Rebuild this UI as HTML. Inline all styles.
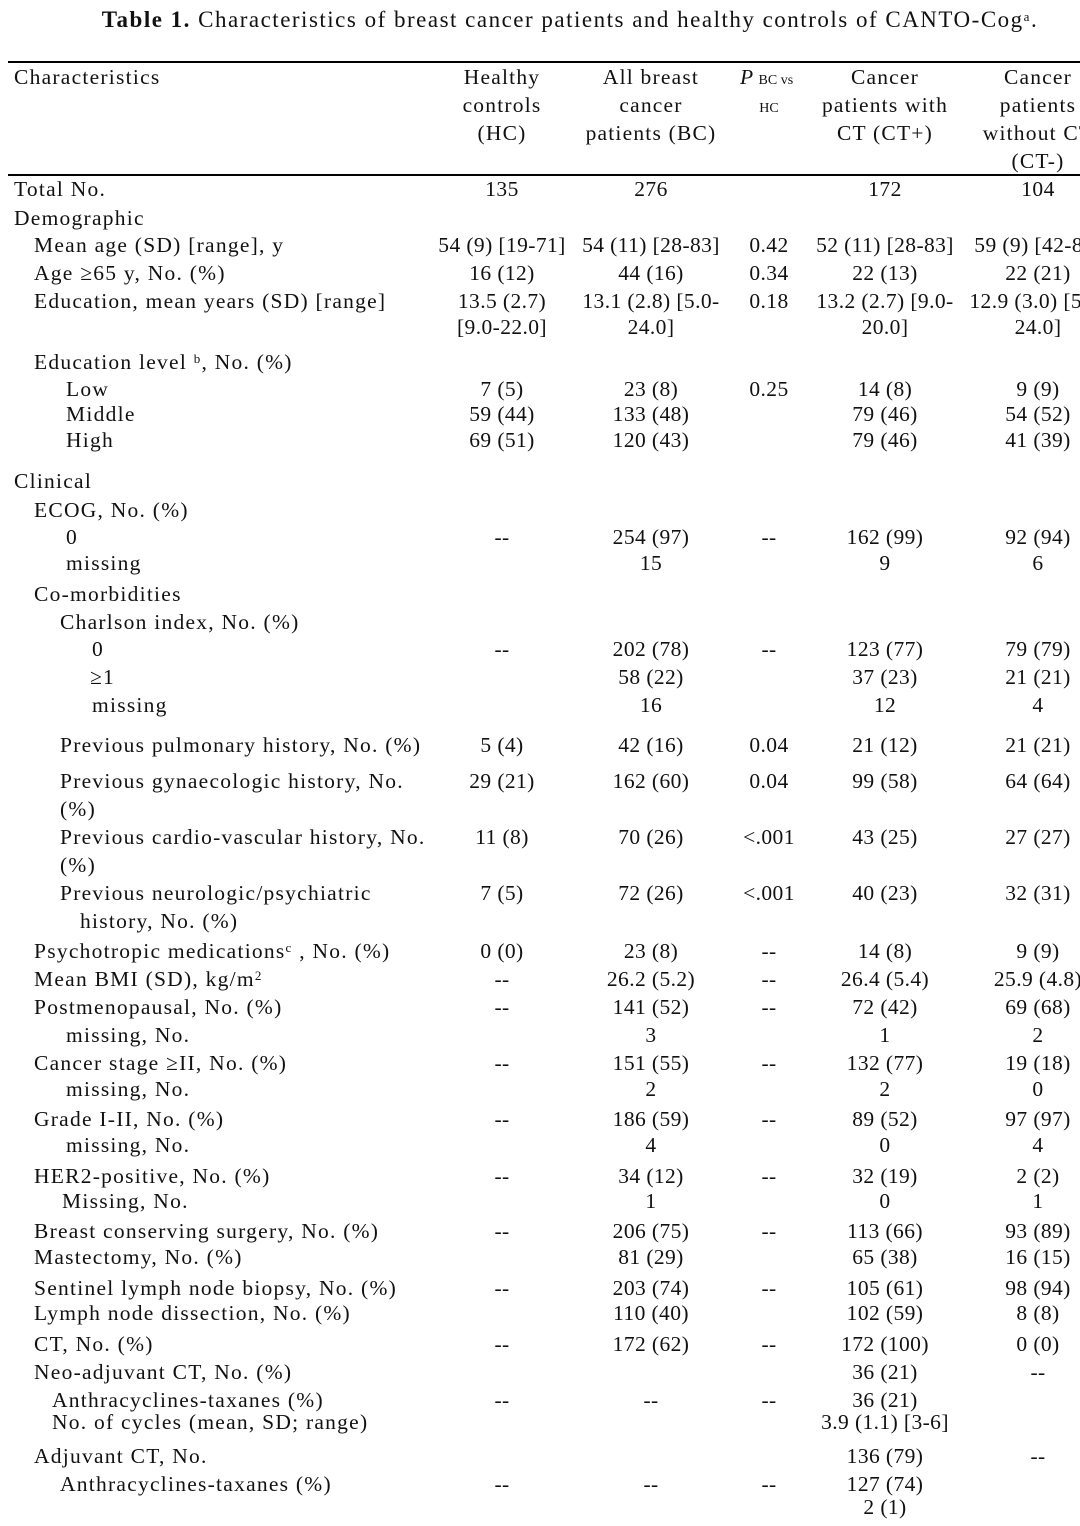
<!DOCTYPE html>
<html><head><meta charset="utf-8"><style>
html,body{margin:0;padding:0;background:#fff;}
body{width:1080px;height:1526px;position:relative;overflow:hidden;font-family:"Liberation Serif","Times New Roman",serif;font-size:21.5px;color:#111;}
.r{position:absolute;left:0;width:1200px;height:26px;line-height:26px;letter-spacing:0.4px;}
.r span{position:absolute;white-space:nowrap;}
.r span[style*="left"]{letter-spacing:1.25px}
.h span{letter-spacing:1.2px}
.a{left:402px;width:200px;text-align:center}
.b{left:551px;width:200px;text-align:center}
.p{left:709px;width:120px;text-align:center}
.c{left:785px;width:200px;text-align:center}
.d{left:938px;width:200px;text-align:center}
.rule{position:absolute;left:8px;width:1080px;height:1.5px;background:#000;}
sup{font-size:13px;vertical-align:6px;line-height:0}
</style></head><body>
<div style="position:absolute;top:5px;left:0;width:1140px;text-align:center;font-size:23px;line-height:30px;letter-spacing:1.5px"><b>Table 1.</b> Characteristics of breast cancer patients and healthy controls of CANTO-Cog<sup>a</sup>.</div>
<div class="rule" style="top:61px"></div>
<div class="rule" style="top:174px"></div>
<div class="r h" style="top:64px"><span style="left:14px">Characteristics</span><span class="a">Healthy</span><span class="b">All breast</span><span style="left:740px;letter-spacing:0"><i>P</i> <span style="position:static;font-size:14px;letter-spacing:0">BC vs</span></span><span class="c">Cancer</span><span class="d">Cancer</span></div>
<div class="r h" style="top:92px"><span class="a">controls</span><span class="b">cancer</span><span class="p" style="font-size:14px;top:4px;letter-spacing:0">HC</span><span class="c">patients with</span><span class="d">patients</span></div>
<div class="r h" style="top:120px"><span class="a">(HC)</span><span class="b">patients (BC)</span><span class="c">CT (CT+)</span><span class="d">without CT</span></div>
<div class="r h" style="top:148px"><span class="d">(CT-)</span></div>

<div class="r" style="top:176px"><span style="left:14px">Total No.</span><span class="a">135</span><span class="b">276</span><span class="c">172</span><span class="d">104</span></div>
<div class="r" style="top:205px"><span style="left:14px">Demographic</span></div>
<div class="r" style="top:232px"><span style="left:34px">Mean age (SD) [range], y</span><span class="a">54 (9) [19-71]</span><span class="b">54 (11) [28-83]</span><span class="p">0.42</span><span class="c">52 (11) [28-83]</span><span class="d">59 (9) [42-84]</span></div>
<div class="r" style="top:260px"><span style="left:34px">Age ≥65 y, No. (%)</span><span class="a">16 (12)</span><span class="b">44 (16)</span><span class="p">0.34</span><span class="c">22 (13)</span><span class="d">22 (21)</span></div>
<div class="r" style="top:288px"><span style="left:34px">Education, mean years (SD) [range]</span><span class="a">13.5 (2.7)</span><span class="b">13.1 (2.8) [5.0-</span><span class="p">0.18</span><span class="c">13.2 (2.7) [9.0-</span><span class="d">12.9 (3.0) [5.0-</span></div>
<div class="r" style="top:314px"><span class="a">[9.0-22.0]</span><span class="b">24.0]</span><span class="c">20.0]</span><span class="d">24.0]</span></div>
<div class="r" style="top:349px"><span style="left:34px">Education level <sup>b</sup>, No. (%)</span></div>
<div class="r" style="top:376px"><span style="left:66px">Low</span><span class="a">7 (5)</span><span class="b">23 (8)</span><span class="p">0.25</span><span class="c">14 (8)</span><span class="d">9 (9)</span></div>
<div class="r" style="top:401px"><span style="left:66px">Middle</span><span class="a">59 (44)</span><span class="b">133 (48)</span><span class="c">79 (46)</span><span class="d">54 (52)</span></div>
<div class="r" style="top:427px"><span style="left:66px">High</span><span class="a">69 (51)</span><span class="b">120 (43)</span><span class="c">79 (46)</span><span class="d">41 (39)</span></div>
<div class="r" style="top:468px"><span style="left:14px">Clinical</span></div>
<div class="r" style="top:497px"><span style="left:34px">ECOG, No. (%)</span></div>
<div class="r" style="top:524px"><span style="left:66px">0</span><span class="a">--</span><span class="b">254 (97)</span><span class="p">--</span><span class="c">162 (99)</span><span class="d">92 (94)</span></div>
<div class="r" style="top:550px"><span style="left:66px">missing</span><span class="b">15</span><span class="c">9</span><span class="d">6</span></div>
<div class="r" style="top:581px"><span style="left:34px">Co-morbidities</span></div>
<div class="r" style="top:609px"><span style="left:60px">Charlson index, No. (%)</span></div>
<div class="r" style="top:636px"><span style="left:92px">0</span><span class="a">--</span><span class="b">202 (78)</span><span class="p">--</span><span class="c">123 (77)</span><span class="d">79 (79)</span></div>
<div class="r" style="top:664px"><span style="left:90px">≥1</span><span class="b">58 (22)</span><span class="c">37 (23)</span><span class="d">21 (21)</span></div>
<div class="r" style="top:692px"><span style="left:92px">missing</span><span class="b">16</span><span class="c">12</span><span class="d">4</span></div>
<div class="r" style="top:732px"><span style="left:60px">Previous pulmonary history, No. (%)</span><span class="a">5 (4)</span><span class="b">42 (16)</span><span class="p">0.04</span><span class="c">21 (12)</span><span class="d">21 (21)</span></div>
<div class="r" style="top:768px"><span style="left:60px">Previous gynaecologic history, No.</span><span class="a">29 (21)</span><span class="b">162 (60)</span><span class="p">0.04</span><span class="c">99 (58)</span><span class="d">64 (64)</span></div>
<div class="r" style="top:796px"><span style="left:60px">(%)</span></div>
<div class="r" style="top:824px"><span style="left:60px">Previous cardio-vascular history, No.</span><span class="a">11 (8)</span><span class="b">70 (26)</span><span class="p">&lt;.001</span><span class="c">43 (25)</span><span class="d">27 (27)</span></div>
<div class="r" style="top:852px"><span style="left:60px">(%)</span></div>
<div class="r" style="top:880px"><span style="left:60px">Previous neurologic/psychiatric</span><span class="a">7 (5)</span><span class="b">72 (26)</span><span class="p">&lt;.001</span><span class="c">40 (23)</span><span class="d">32 (31)</span></div>
<div class="r" style="top:908px"><span style="left:80px">history, No. (%)</span></div>
<div class="r" style="top:938px"><span style="left:34px">Psychotropic medications<sup>c</sup> , No. (%)</span><span class="a">0 (0)</span><span class="b">23 (8)</span><span class="p">--</span><span class="c">14 (8)</span><span class="d">9 (9)</span></div>
<div class="r" style="top:966px"><span style="left:34px">Mean BMI (SD), kg/m<sup>2</sup></span><span class="a">--</span><span class="b">26.2 (5.2)</span><span class="p">--</span><span class="c">26.4 (5.4)</span><span class="d">25.9 (4.8)</span></div>
<div class="r" style="top:994px"><span style="left:34px">Postmenopausal, No. (%)</span><span class="a">--</span><span class="b">141 (52)</span><span class="p">--</span><span class="c">72 (42)</span><span class="d">69 (68)</span></div>
<div class="r" style="top:1022px"><span style="left:66px">missing, No.</span><span class="b">3</span><span class="c">1</span><span class="d">2</span></div>
<div class="r" style="top:1050px"><span style="left:34px">Cancer stage ≥II, No. (%)</span><span class="a">--</span><span class="b">151 (55)</span><span class="p">--</span><span class="c">132 (77)</span><span class="d">19 (18)</span></div>
<div class="r" style="top:1076px"><span style="left:66px">missing, No.</span><span class="b">2</span><span class="c">2</span><span class="d">0</span></div>
<div class="r" style="top:1106px"><span style="left:34px">Grade I-II, No. (%)</span><span class="a">--</span><span class="b">186 (59)</span><span class="p">--</span><span class="c">89 (52)</span><span class="d">97 (97)</span></div>
<div class="r" style="top:1132px"><span style="left:66px">missing, No.</span><span class="b">4</span><span class="c">0</span><span class="d">4</span></div>
<div class="r" style="top:1163px"><span style="left:34px">HER2-positive, No. (%)</span><span class="a">--</span><span class="b">34 (12)</span><span class="p">--</span><span class="c">32 (19)</span><span class="d">2 (2)</span></div>
<div class="r" style="top:1188px"><span style="left:62px">Missing, No.</span><span class="b">1</span><span class="c">0</span><span class="d">1</span></div>
<div class="r" style="top:1218px"><span style="left:34px">Breast conserving surgery, No. (%)</span><span class="a">--</span><span class="b">206 (75)</span><span class="p">--</span><span class="c">113 (66)</span><span class="d">93 (89)</span></div>
<div class="r" style="top:1244px"><span style="left:34px">Mastectomy, No. (%)</span><span class="b">81 (29)</span><span class="c">65 (38)</span><span class="d">16 (15)</span></div>
<div class="r" style="top:1275px"><span style="left:34px">Sentinel lymph node biopsy, No. (%)</span><span class="a">--</span><span class="b">203 (74)</span><span class="p">--</span><span class="c">105 (61)</span><span class="d">98 (94)</span></div>
<div class="r" style="top:1300px"><span style="left:34px">Lymph node dissection, No. (%)</span><span class="b">110 (40)</span><span class="c">102 (59)</span><span class="d">8 (8)</span></div>
<div class="r" style="top:1331px"><span style="left:34px">CT, No. (%)</span><span class="a">--</span><span class="b">172 (62)</span><span class="p">--</span><span class="c">172 (100)</span><span class="d">0 (0)</span></div>
<div class="r" style="top:1359px"><span style="left:34px">Neo-adjuvant CT, No. (%)</span><span class="c">36 (21)</span><span class="d">--</span></div>
<div class="r" style="top:1387px"><span style="left:52px">Anthracyclines-taxanes (%)</span><span class="a">--</span><span class="b">--</span><span class="p">--</span><span class="c">36 (21)</span></div>
<div class="r" style="top:1409px"><span style="left:52px">No. of cycles (mean, SD; range)</span><span class="c">3.9 (1.1) [3-6]</span></div>
<div class="r" style="top:1443px"><span style="left:34px">Adjuvant CT, No.</span><span class="c">136 (79)</span><span class="d">--</span></div>
<div class="r" style="top:1471px"><span style="left:60px">Anthracyclines-taxanes (%)</span><span class="a">--</span><span class="b">--</span><span class="p">--</span><span class="c">127 (74)</span></div>
<div class="r" style="top:1494px"><span class="c">2 (1)</span></div>
</body></html>
